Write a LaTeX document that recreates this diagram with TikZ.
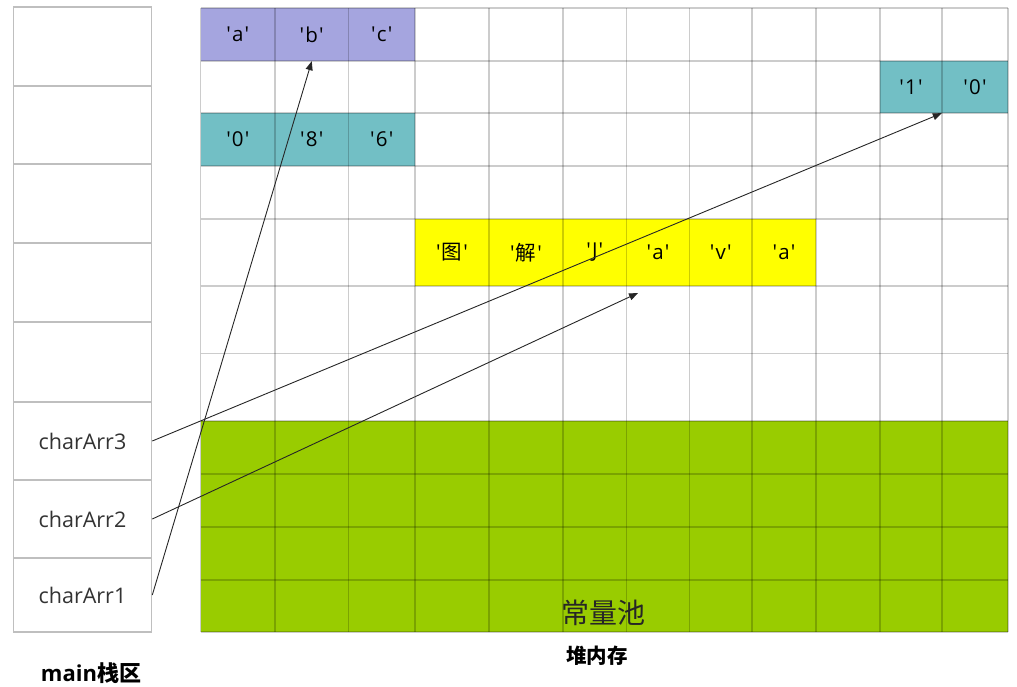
\documentclass[tikz,border=0pt]{standalone}
\usepackage{fontspec}
\newfontfamily\latf{Open Sans}
\newfontfamily\cjkf{Noto Sans CJK SC}
\usetikzlibrary{arrows.meta}
\definecolor{cpurple}{HTML}{A5A5DF}
\definecolor{cteal}{HTML}{72BFC5}
\definecolor{cyellow}{HTML}{FFFF00}
\definecolor{cgreen}{HTML}{99CC00}
\definecolor{cline}{HTML}{BFBFBF}
\newcommand{\qc}[1]{'\kern1.2pt#1\kern1.2pt'}
\tikzset{
  cell/.style={rectangle, inner sep=0pt, draw=none, font=\latf\fontsize{20.5}{24}\selectfont, text=black},
  stackbox/.style={rectangle, inner sep=0pt, draw=cline, line width=1.2pt, minimum width=138.4pt, font=\latf\fontsize{21.5}{25}\selectfont, text=black!80},
  gridline/.style={draw=black, draw opacity=0.2, line width=1.1pt},
  ptr/.style={draw=black!85, line width=0.9pt, -{Triangle[length=9pt,width=7pt]}},
  title/.style={font=\bfseries\fontsize{20.5}{24}\selectfont, text=black}
}
\begin{document}
\begin{tikzpicture}[x=1pt,y=-1pt]
\useasboundingbox (0,0) rectangle (1017,687);
% green constant pool
\fill[cgreen] (200.7,421) rectangle (1008,632);
% purple row
\node[cell, fill=cpurple, minimum width=74.3pt, minimum height=53pt] (pa) at (237.85,34.5) {\qc{a}};
\node[cell, fill=cpurple, minimum width=73.5pt, minimum height=53pt] (pb) at (311.75,34.5) {\qc{b}};
\node[cell, fill=cpurple, minimum width=66.5pt, minimum height=53pt] (pc) at (381.75,34.5) {\qc{c}};
% teal row right
\node[cell, fill=cteal, minimum width=62pt, minimum height=52pt] (t1) at (911,87) {\qc{1}};
\node[cell, fill=cteal, minimum width=66pt, minimum height=52pt] (t0) at (975,87) {\qc{0}};
% teal row left
\node[cell, fill=cteal, minimum width=74.3pt, minimum height=53pt] (u0) at (237.85,139.5) {\qc{0}};
\node[cell, fill=cteal, minimum width=73.5pt, minimum height=53pt] (u8) at (311.75,139.5) {\qc{8}};
\node[cell, fill=cteal, minimum width=66.5pt, minimum height=53pt] (u6) at (381.75,139.5) {\qc{6}};
% yellow row
\node[cell, fill=cyellow, minimum width=74pt, minimum height=67pt] (y1) at (452,252.5) {\qc{{\cjkf 图}}};
\node[cell, fill=cyellow, minimum width=74pt, minimum height=67pt] (y2) at (526,252.5) {\qc{{\cjkf 解}}};
\node[cell, fill=cyellow, minimum width=63.5pt, minimum height=67pt] (y3) at (594.75,252.5) {\qc{J}};
\node[cell, fill=cyellow, minimum width=63pt, minimum height=67pt] (y4) at (658,252.5) {\qc{a}};
\node[cell, fill=cyellow, minimum width=62.5pt, minimum height=67pt] (y5) at (720.75,252.5) {\qc{v}};
\node[cell, fill=cyellow, minimum width=64pt, minimum height=67pt] (y6) at (784,252.5) {\qc{a}};
% grid
\foreach \x in {200.7,275,348.5,415,489,563,626.5,689.5,752,816,880,942,1008}
  \draw[gridline] (\x,8) -- (\x,632);
\foreach \y in {8,61,113,166,219,286,353.5,421,474,527,580,632}
  \draw[gridline] (200.7,\y) -- (1008,\y);
% constant pool label
\node[font=\cjkf\fontsize{28}{32}\selectfont, text=black!85] (pool) at (603,613) {常量池};
% stack
\node[stackbox, minimum height=79pt] (s1) at (82.5,46.5) {};
\node[stackbox, minimum height=78pt] (s2) at (82.5,125) {};
\node[stackbox, minimum height=79pt] (s3) at (82.5,203.5) {};
\node[stackbox, minimum height=79pt] (s4) at (82.5,282.5) {};
\node[stackbox, minimum height=80pt] (s5) at (82.5,362) {};
\node[stackbox, minimum height=78pt] (s6) at (82.5,441) {charArr3};
\node[stackbox, minimum height=78pt] (s7) at (82.5,519) {charArr2};
\node[stackbox, minimum height=74pt] (s8) at (82.5,595) {charArr1};
% titles
\node[title] (heap) at (597,656) {\cjkf 堆内存};
\node[title, font=\bfseries\fontsize{22}{26}\selectfont] (mainst) at (91,673) {\latf main\cjkf 栈区};
% pointers
\coordinate (tip2) at (638,293);
\draw[ptr] (s6.east) -- (t0.south west);
\draw[ptr] (s7.east) -- (tip2);
\draw[ptr] (s8.east) -- (pb.south);
\end{tikzpicture}
\end{document}
